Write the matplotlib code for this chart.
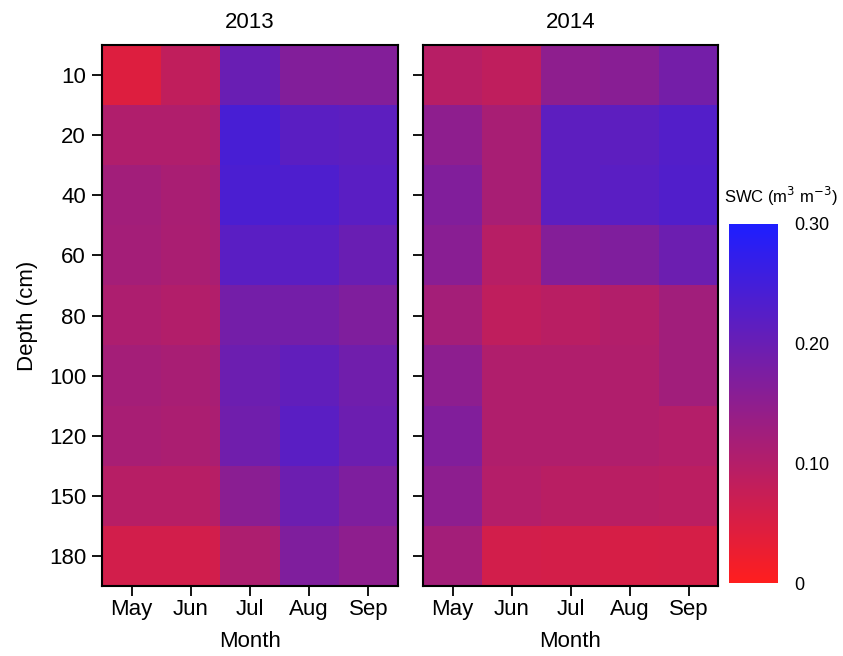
import matplotlib
matplotlib.use("Agg")
import matplotlib.pyplot as plt
import numpy as np
from matplotlib.colors import LinearSegmentedColormap

plt.rcParams['font.family'] = ['Liberation Sans', 'DejaVu Sans']

months = ['May', 'Jun', 'Jul', 'Aug', 'Sep']
depths = ['10', '20', '40', '60', '80', '100', '120', '150', '180']

# soil water content (m3 m-3), rows = depth, columns = month
swc_2013 = np.array([
    [0.045, 0.084, 0.200, 0.166, 0.165],
    [0.105, 0.105, 0.243, 0.219, 0.215],
    [0.124, 0.114, 0.239, 0.235, 0.220],
    [0.120, 0.113, 0.220, 0.220, 0.200],
    [0.108, 0.103, 0.185, 0.185, 0.170],
    [0.120, 0.116, 0.195, 0.210, 0.190],
    [0.115, 0.112, 0.190, 0.220, 0.195],
    [0.095, 0.095, 0.155, 0.195, 0.172],
    [0.060, 0.060, 0.108, 0.170, 0.150],
])

swc_2014 = np.array([
    [0.095, 0.085, 0.150, 0.158, 0.185],
    [0.150, 0.115, 0.215, 0.215, 0.228],
    [0.167, 0.115, 0.215, 0.220, 0.232],
    [0.157, 0.095, 0.163, 0.170, 0.195],
    [0.120, 0.085, 0.093, 0.103, 0.125],
    [0.152, 0.105, 0.105, 0.105, 0.125],
    [0.167, 0.105, 0.105, 0.105, 0.100],
    [0.152, 0.100, 0.093, 0.093, 0.090],
    [0.123, 0.060, 0.058, 0.055, 0.056],
])

years = ['2013', '2014']

cmap = LinearSegmentedColormap.from_list('rb', ['#FF1E1E', '#1E1EFF'])

fig = plt.figure(figsize=(8.43, 6.56), dpi=100)
ax1 = fig.add_axes([102/843, 1 - 586/656, 296/843, 541/656])
ax2 = fig.add_axes([423/843, 1 - 586/656, 295/843, 541/656])
cax = fig.add_axes([729/843, 1 - 583/656, 49/843, 359/656])

for ax, data, yr in zip([ax1, ax2], [swc_2013, swc_2014], years):
    im = ax.imshow(data, cmap=cmap, vmin=0, vmax=0.30, aspect='auto',
                   interpolation='nearest')
    ax.set_xticks(range(len(months)))
    ax.set_xticklabels(months)
    ax.set_yticks(range(len(depths)))
    ax.tick_params(direction='out', length=7.5, width=1.3, colors='black',
                   labelsize=16)
    ax.tick_params(axis='x', pad=2)
    ax.tick_params(axis='y', pad=4)
    ax.set_title(yr, fontsize=16, pad=12)
    ax.set_xlabel('Month', fontsize=16, labelpad=8)
    for s in ax.spines.values():
        s.set_linewidth(1.5)

ax1.set_yticklabels(depths)
ax1.set_ylabel('Depth (cm)', fontsize=16, labelpad=8)
ax2.set_yticklabels([])

cb = fig.colorbar(im, cax=cax)
cb.outline.set_visible(False)
cb.set_ticks([0, 0.10, 0.20, 0.30])
cb.set_ticklabels(['0', '0.10', '0.20', '0.30'])
cax.tick_params(length=0, labelsize=13, pad=12)
fig.text(724/843, 1 - 196/656, 'SWC (m$^3$ m$^{-3}$)', fontsize=12,
         ha='left', va='center')

fig.savefig('out.png', dpi=100)
